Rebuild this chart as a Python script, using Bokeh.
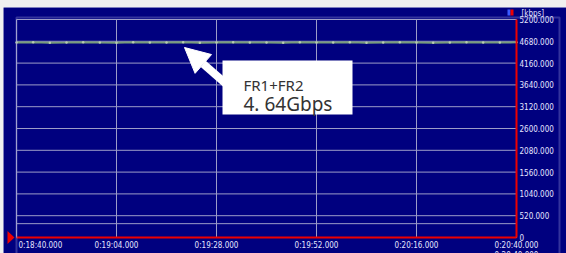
from bokeh.plotting import figure
from bokeh.layouts import column, row
from bokeh.models import (Range1d, FixedTicker, Label, BoxAnnotation, PolyAnnotation,
                          Arrow, NormalHead, Spacer, LinearAxis)
from bokeh.embed import file_html
from bokeh.resources import INLINE

# ---------------- data ----------------
time_s = [1120, 1124, 1128, 1132, 1136, 1140, 1144, 1148, 1152, 1156, 1160,
          1164, 1168, 1172, 1176, 1180, 1184, 1188, 1192, 1196, 1200, 1204,
          1208, 1212, 1216, 1220, 1224, 1228, 1232, 1236, 1240]
throughput_kbps = [4650, 4655, 4645, 4650, 4660, 4650, 4645, 4655, 4650, 4650, 4655,
                   4645, 4650, 4660, 4650, 4650, 4645, 4655, 4650, 4650, 4660, 4645,
                   4650, 4655, 4650, 4645, 4650, 4655, 4650, 4650, 4655]

x_ticks = [1120, 1144, 1168, 1192, 1216, 1240]
x_tick_labels = ["0:18:40.000", "0:19:04.000", "0:19:28.000",
                 "0:19:52.000", "0:20:16.000", "0:20:40.000"]
y_ticks = [0, 520, 1040, 1560, 2080, 2600, 3120, 3640, 4160, 4680, 5200]
y_tick_labels = ["0", "520.000", "1040.000", "1560.000", "2080.000", "2600.000",
                 "3120.000", "3640.000", "4160.000", "4680.000", "5200.000"]
extra_line_kbps = 330
unit_label = "[kbps]"
annot_title = "FR1+FR2"
annot_value = "4. 64Gbps"

# ---------------- style ----------------
NAVY = "#00007f"
PAGE = "#f0f0f0"
LAV = "#a8a8e0"
GRID = "#9c9cc8"
RED = "#ee0000"
TXT = "#e6e6ff"
AX_FONT = "'Liberation Sans Narrow', 'DejaVu Sans Condensed', sans-serif"

FIG_W, FIG_H = 563, 246
PAD_L, PAD_R, PAD_T, PAD_B = 13, 50, 12, 16      # plot area inside the canvas
X0, X1 = x_ticks[0], x_ticks[-1]
Y0, Y1 = y_ticks[0], y_ticks[-1]
XPX = (X1 - X0) / (FIG_W - PAD_L - PAD_R)
YPX = (Y1 - Y0) / (FIG_H - PAD_T - PAD_B)

p = figure(width=FIG_W, height=FIG_H,
           x_range=Range1d(X0 - PAD_L * XPX, X1 + PAD_R * XPX),
           y_range=Range1d(Y0 - PAD_B * YPX, Y1 + PAD_T * YPX),
           output_backend="svg", toolbar_location=None,
           x_axis_location=None, y_axis_location=None)
p.min_border = 0
p.min_border_left = p.min_border_right = p.min_border_top = p.min_border_bottom = 0
p.background_fill_color = NAVY
p.border_fill_color = NAVY
p.outline_line_color = None
p.xgrid.visible = False
p.ygrid.visible = False

xax = LinearAxis(fixed_location=Y0, bounds=(X0, X1),
                 ticker=FixedTicker(ticks=x_ticks[1:]),
                 major_label_overrides={t: l for t, l in zip(x_ticks[1:], x_tick_labels[1:])})
yax = LinearAxis(fixed_location=X1, bounds=(Y0, Y1),
                 ticker=FixedTicker(ticks=y_ticks),
                 major_label_overrides={t: l for t, l in zip(y_ticks, y_tick_labels)})
for ax in (xax, yax):
    ax.axis_line_color = None
    ax.major_tick_line_color = None
    ax.minor_tick_line_color = None
    ax.major_tick_out = 0
    ax.major_tick_in = 0
    ax.major_label_standoff = 3
    ax.major_label_text_font = AX_FONT
    ax.major_label_text_font_size = "8px"
    ax.major_label_text_color = TXT
p.add_layout(xax, "below")
p.add_layout(yax, "right")

# grid lines (limited to the plot area)
p.segment(x0=x_ticks, y0=[Y0] * len(x_ticks), x1=x_ticks, y1=[Y1] * len(x_ticks),
          line_color=GRID, line_width=1)
p.segment(x0=[X0] * len(y_ticks), y0=y_ticks, x1=[X1] * len(y_ticks), y1=y_ticks,
          line_color=GRID, line_width=1)
p.segment(x0=[X0], y0=[extra_line_kbps], x1=[X1], y1=[extra_line_kbps],
          line_color=GRID, line_width=1)

# outer lavender frame
p.add_layout(BoxAnnotation(left=X0, right=X1 + 43 * XPX, top=Y1 + 2 * YPX,
                           bottom=Y0 - 40 * YPX, fill_color=None,
                           line_color=LAV, line_width=2))

# data line
p.line(time_s, throughput_kbps, line_color="#789c7c", line_width=2)
p.scatter(time_s, throughput_kbps, size=2.5, fill_color="#b8ccb0", line_color=None)

# red cursor lines
p.segment(x0=[X0], y0=[Y0], x1=[X1], y1=[Y0], line_color=RED, line_width=2)
p.segment(x0=[X1], y0=[Y0], x1=[X1], y1=[Y1], line_color=RED, line_width=2)

# red start triangle
p.add_layout(PolyAnnotation(xs=[X0 - 9 * XPX, X0 - 2 * XPX, X0 - 9 * XPX],
                            ys=[Y0 + 6.5 * YPX, Y0, Y0 - 6.5 * YPX],
                            fill_color=RED, fill_alpha=1, line_color=None))

# top cursor marker
p.add_layout(BoxAnnotation(left=X1 - 9 * XPX, right=X1 - 6 * XPX,
                           top=Y1 + 10 * YPX, bottom=Y1 + 4 * YPX,
                           fill_color="#3a5cff", fill_alpha=1, line_color=None))
p.add_layout(BoxAnnotation(left=X1 - 6 * XPX, right=X1 - 3 * XPX,
                           top=Y1 + 10 * YPX, bottom=Y1 + 4 * YPX,
                           fill_color=RED, fill_alpha=1, line_color=None))

p.add_layout(Label(x=X1, y=Y1, x_offset=5, y_offset=2, text=unit_label,
                   text_font=AX_FONT, text_font_size="8px", text_color=TXT,
                   text_baseline="bottom", text_align="left"))

# first and duplicate time labels
p.add_layout(Label(x=X0, y=Y0, x_offset=2, y_offset=-3, text=x_tick_labels[0],
                   text_font=AX_FONT, text_font_size="8px", text_color=TXT,
                   text_baseline="top", text_align="left"))
p.add_layout(Label(x=X1, y=Y0, x_offset=0, y_offset=-13, text=x_tick_labels[-1],
                   text_font=AX_FONT, text_font_size="8px", text_color=TXT,
                   text_baseline="top", text_align="center"))

# annotation arrow + box
p.add_layout(Arrow(end=NormalHead(size=25, fill_color="white", line_color="white"),
                   x_start=X0 + 224 * XPX, y_start=141 * YPX,
                   x_end=X0 + 168 * XPX, y_end=190 * YPX,
                   line_color="white", line_width=8))
bx_l, bx_r = X0 + 206 * XPX, X0 + 336 * XPX
bx_t, bx_b = 177 * YPX, 123 * YPX
p.add_layout(BoxAnnotation(left=bx_l, right=bx_r, top=bx_t, bottom=bx_b,
                           fill_color="white", fill_alpha=1, line_color=None))
p.add_layout(Label(x=bx_l, y=bx_t, x_offset=21, y_offset=-24, text=annot_title,
                   text_font="Noto Sans", text_font_size="15px", text_color="#333333",
                   text_baseline="alphabetic"))
p.add_layout(Label(x=bx_l, y=bx_t, x_offset=21, y_offset=-43, text=annot_value,
                   text_font="Noto Sans", text_font_size="19px", text_color="#333333",
                   text_baseline="alphabetic"))

top_band = Spacer(width=566, height=7, styles={"background-color": PAGE})
left_band = Spacer(width=3, height=FIG_H, styles={"background-color": PAGE})
layout = column(top_band, row(left_band, p))

open("out.html", "w").write(file_html(layout, INLINE))
